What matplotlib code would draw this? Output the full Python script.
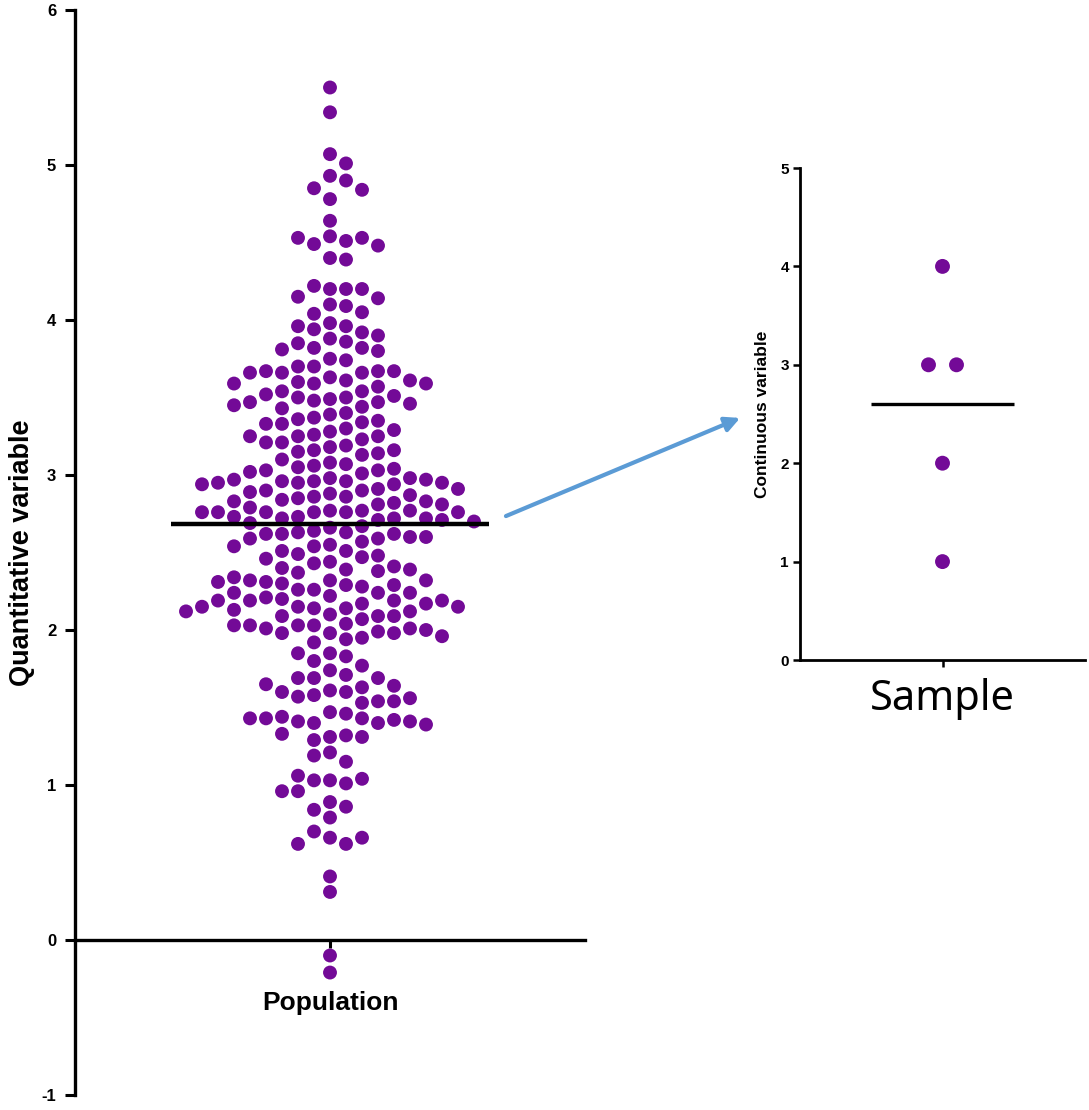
import numpy as np
import matplotlib
matplotlib.use("Agg")
import matplotlib.pyplot as plt
from matplotlib.patches import ConnectionPatch

plt.rcParams['font.family'] = ['Liberation Sans', 'DejaVu Sans']

# ---------------- data ----------------
population = [
    5.50, 5.34, 5.07, 5.01, 4.93, 4.90, 4.85, 4.84, 4.78, 4.64, 4.54, 4.51, 4.49, 4.53, 4.53, 4.48, 4.40, 4.39,
    4.20, 4.20, 4.22, 4.20, 4.15, 4.14, 4.10, 4.09, 4.04, 4.05, 3.98, 3.96, 3.96, 3.94, 3.92, 3.90, 3.88, 3.86,
    3.85, 3.82, 3.82, 3.81, 3.80, 3.75, 3.74,
    3.70, 3.70, 3.66, 3.66, 3.67, 3.67, 3.67, 3.66, 3.63, 3.61, 3.61, 3.59, 3.60, 3.59, 3.57, 3.59,
    3.54, 3.54, 3.49, 3.50, 3.51, 3.48, 3.50, 3.52, 3.47, 3.47, 3.46, 3.45, 3.44, 3.43,
    3.39, 3.40, 3.37, 3.36, 3.35, 3.34, 3.33, 3.33, 3.30, 3.28, 3.29, 3.26, 3.25, 3.23, 3.25, 3.25,
    3.21, 3.21, 3.19, 3.18, 3.16, 3.15, 3.16, 3.14, 3.13, 3.10, 3.08, 3.06, 3.07, 3.05,
    3.01, 3.03, 3.04, 3.03, 2.98, 3.02, 2.96, 2.96, 2.96, 2.98, 2.95, 2.97, 2.97, 2.95,
    2.90, 2.94, 2.95, 2.94, 2.91, 2.90, 2.88, 2.89, 2.87, 2.91, 2.86, 2.86,
    2.85, 2.84, 2.82, 2.83, 2.83, 2.81, 2.81,
    2.77, 2.76, 2.77, 2.76, 2.76, 2.77, 2.79, 2.76, 2.76, 2.76, 2.73, 2.72, 2.71, 2.72, 2.73, 2.72, 2.71, 2.70,
    2.66, 2.67, 2.69, 2.63, 2.64, 2.63, 2.62, 2.62, 2.59,
    2.62, 2.60, 2.60, 2.57, 2.55, 2.59, 2.54, 2.54,
    2.51, 2.49, 2.51, 2.47, 2.48, 2.46, 2.44, 2.43,
    2.39, 2.40, 2.41, 2.37, 2.39, 2.38,
    2.32, 2.26, 2.29, 2.26, 2.28, 2.31, 2.32, 2.30, 2.32, 2.34, 2.29, 2.31,
    2.24, 2.24, 2.24, 2.22, 2.21, 2.20,
    2.14, 2.17, 2.19, 2.19, 2.17, 2.19, 2.19, 2.14, 2.15, 2.15, 2.15,
    2.10, 2.09, 2.12, 2.13, 2.12, 2.09, 2.07, 2.09,
    2.03, 2.04, 2.03, 2.01, 2.03, 2.01, 2.03,
    1.98, 2.00, 1.99, 1.98, 1.98,
    1.95, 1.96, 1.94, 1.92,
    1.85, 1.83, 1.85, 1.80, 1.77, 1.74,
    1.69, 1.71, 1.69, 1.69,
    1.61, 1.60, 1.63, 1.60, 1.65, 1.58, 1.57, 1.64,
    1.54, 1.56, 1.53, 1.54, 1.47, 1.46,
    1.40, 1.43, 1.41, 1.40, 1.44, 1.42, 1.43, 1.41, 1.43, 1.39,
    1.31, 1.32, 1.29, 1.31, 1.33,
    1.21, 1.19, 1.15,
    1.03, 1.01, 1.03, 1.04, 1.06,
    0.96, 0.96, 0.89, 0.84, 0.86, 0.79,
    0.66, 0.70, 0.62, 0.62, 0.66,
    0.41, 0.31, -0.10, -0.21,
]
sample = [4, 3, 3, 2, 1]

population_label = "Population"
sample_label = "Sample"
left_ylabel = "Quantitative variable"
right_ylabel = "Continuous variable"
left_yticks = [-1, 0, 1, 2, 3, 4, 5, 6]
right_yticks = [0, 1, 2, 3, 4, 5]

PURPLE = "#730A97"
ARROW = "#5B9BD5"

W, H = 1089, 1110
fig = plt.figure(figsize=(W / 100, H / 100), dpi=100)


def swarm_px(ypix, dx_min=14.0, dy_min=14.0, step=8.0, maxk=60):
    """Greedy column swarm in pixel space: innermost free slot."""
    placed = []
    xs = np.zeros(len(ypix))
    for i, y in enumerate(ypix):
        cands = [0.0]
        for k in range(1, maxk):
            if i % 2 == 0:
                cands += [-k * step, k * step]
            else:
                cands += [k * step, -k * step]
        for c in cands:
            ok = True
            for (px, py) in placed:
                if abs(px - c) < dx_min and abs(py - y) < dy_min:
                    ok = False
                    break
            if ok:
                break
        xs[i] = c
        placed.append((c, y))
    return xs


def centered_ties_px(vals, spacing):
    vals = np.asarray(vals, float)
    xs = np.zeros(len(vals))
    for v in np.unique(vals):
        idx = np.where(vals == v)[0]
        m = len(idx)
        for k, j in enumerate(idx):
            xs[j] = (k - (m - 1) / 2) * spacing
    return xs


# ---------------- left: population ----------------
ax1 = fig.add_axes([75 / W, (H - 1095) / H, 510 / W, 1085 / H])
ax1.set_ylim(-1, 6)
ax1.set_xlim(-1.0, 1.0)
pop = np.asarray(population, float)
t = ax1.transData
ypix = t.transform(np.column_stack([np.zeros(len(pop)), pop]))[:, 1]
pxu = t.transform((1, 0))[0] - t.transform((0, 0))[0]
xoff = swarm_px(ypix) / pxu
ax1.scatter(xoff, pop, s=100, color=PURPLE, edgecolors='none', zorder=2, clip_on=False)
m1 = pop.mean()
ax1.hlines(m1, -0.625, 0.625, color='black', lw=3.2, zorder=3)

for s in ['top', 'right']:
    ax1.spines[s].set_visible(False)
ax1.spines['left'].set_linewidth(2.4)
ax1.spines['bottom'].set_linewidth(2.4)
ax1.spines['bottom'].set_position(('data', 0))
ax1.set_yticks(left_yticks)
ax1.set_yticklabels([str(v) for v in left_yticks], fontsize=12, fontweight='bold')
ax1.tick_params(axis='y', length=7.5, width=2.2, pad=6)
ax1.set_xticks([0])
ax1.set_xticklabels([population_label], fontsize=19, fontweight='bold')
ax1.tick_params(axis='x', length=6, width=2.2, pad=31)
ax1.set_ylabel(left_ylabel, fontsize=19.5, fontweight='bold')
ax1.yaxis.set_label_coords(-0.078, 0.5)

# ---------------- right: sample ----------------
ax2 = fig.add_axes([800 / W, (H - 660) / H, 285 / W, 492 / H])
ax2.set_ylim(0, 5)
ax2.set_xlim(-1, 1)
smp = np.asarray(sample, float)
t2 = ax2.transData
pxu2 = t2.transform((1, 0))[0] - t2.transform((0, 0))[0]
xs2 = centered_ties_px(smp, 28.0) / pxu2
ax2.scatter(xs2, smp, s=115, color=PURPLE, edgecolors='none', zorder=2, clip_on=False)
ax2.hlines(smp.mean(), -0.5, 0.5, color='black', lw=2.4, zorder=3)
for s in ['top', 'right']:
    ax2.spines[s].set_visible(False)
ax2.spines['left'].set_linewidth(2.0)
ax2.spines['bottom'].set_linewidth(2.0)
ax2.set_yticks(right_yticks)
ax2.set_yticklabels([str(v) for v in right_yticks], fontsize=11, fontweight='bold')
ax2.tick_params(axis='y', length=5, width=1.8, pad=3)
ax2.set_xticks([0])
ax2.set_xticklabels([sample_label], fontsize=30, fontfamily='Noto Sans')
ax2.tick_params(axis='x', length=5, width=1.8, pad=8)
ax2.set_ylabel(right_ylabel, fontsize=12.5, fontweight='bold')
ax2.yaxis.set_label_coords(-0.105, 0.5)

# ---------------- arrow ----------------
con = ConnectionPatch(xyA=(0.69, 2.735), coordsA=ax1.transData,
                      xyB=(-1.42, 2.46), coordsB=ax2.transData,
                      arrowstyle='-|>', color=ARROW, lw=3, mutation_scale=22)
fig.add_artist(con)

fig.savefig("out.png", dpi=100)
